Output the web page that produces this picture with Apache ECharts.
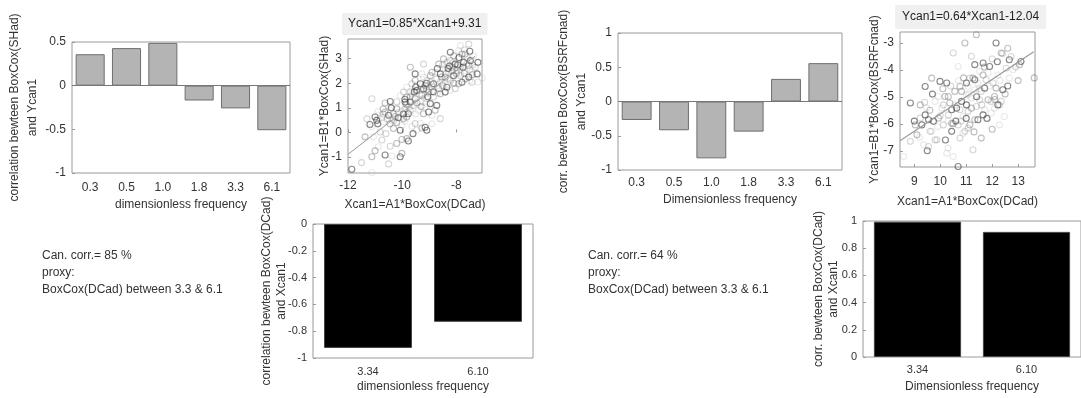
<!DOCTYPE html>
<html>
<head>
<meta charset="utf-8">
<script src="https://cdn.jsdelivr.net/npm/echarts@6.0.0/dist/echarts.min.js"></script>
<style>
  html, body { margin: 0; padding: 0; background: #fff; }
  #chart { width: 1081px; height: 398px; }
</style>
</head>
<body>
<div id="chart"></div>
<script>
// category labels
const freqLabels = ["0.3", "0.5", "1.0", "1.8", "3.3", "6.1"];
const proxyLabels = ["3.34", "6.10"];

// bar values
const shadCorr = [0.36, 0.43, 0.49, -0.17, -0.26, -0.51];
const bsrfCorr = [-0.27, -0.42, -0.83, -0.44, 0.33, 0.56];
const dcadCorrShad = [-0.925, -0.73];
const dcadCorrBsrf = [0.995, 0.92];

// tick values of the scatter axes
const scatter1XTicks = [-12, -10, -8];
const scatter1YTicks = [-1, 0, 1, 2, 3];
const scatter2XTicks = [9, 10, 11, 12, 13];
const scatter2YTicks = [-7, -6, -5, -4, -3];

// fitted lines: [slope, intercept], and x span of the drawn line
const fit1 = [0.85, 9.31];
const fit1Span = [-12, -7.3];
const fit2 = [0.64, -12.04];
const fit2Span = [8.45, 13.6];

// canonical variates
const scatter1Points = [
  [-11.86,-1.50],[-11.12,-1.63],[-11.50,-1.23],[-11.12,-0.99],[-10.63,-0.92],[-10.38,-0.96],
  [-10.50,-1.28],[-10.01,-0.85],[-10.07,-0.99],[-10.88,-0.58],[-10.44,-0.56],[-10.01,-0.29],
  [-9.77,-0.35],[-11.06,-0.18],[-10.75,-0.31],[-11.37,-0.18],[-11.19,0.32],[-11.12,0.23],
  [-10.81,0.02],[-10.32,0.16],[-10.07,0.09],[-10.01,0.29],[-11.12,1.37],[-10.63,1.20],
  [-10.44,1.26],[-9.64,0.25],[-9.52,0.36],[-9.27,0.18],[-9.09,0.09],[-9.33,0.36],
  [-8.59,0.56],[-9.70,2.65],[-9.52,2.38],[-9.27,2.38],[-9.21,2.78],[-8.65,2.78],
  [-8.22,3.26],[-7.85,3.53],[-7.54,3.59],[-7.67,3.19],[-7.23,2.38],[-7.05,2.21],
  [-7.42,2.04],[-7.91,1.98],
  [-11.00,0.63],[-10.88,0.70],[-10.75,0.60],[-10.63,0.83],[-10.50,0.70],[-10.44,0.90],
  [-10.32,0.76],[-10.20,0.96],[-10.14,0.60],[-10.01,0.83],[-9.89,0.96],[-9.83,0.63],
  [-10.94,0.49],[-10.69,0.43],[-10.32,0.49],[-9.95,0.56],[-9.77,0.76],
  [-10.07,1.50],[-9.95,1.64],[-9.83,1.44],[-9.70,1.24],[-9.64,1.57],[-9.58,1.10],
  [-9.52,1.37],[-9.46,1.71],[-9.40,0.90],[-9.33,1.24],[-9.27,1.50],[-9.21,1.77],
  [-9.15,1.03],[-9.09,1.37],[-9.02,1.64],[-8.96,1.17],[-8.90,1.84],[-8.84,1.44],
  [-8.78,0.90],[-8.72,1.10],[-9.83,1.84],[-9.64,1.98],[-9.52,2.11],[-9.89,1.24],
  [-10.01,1.10],[-9.70,0.90],[-9.21,0.76],[-9.02,0.83],[-8.90,0.70],
  [-9.09,2.11],[-8.96,2.31],[-8.84,1.98],[-8.78,2.45],[-8.72,2.18],[-8.65,1.78],
  [-8.59,2.38],[-8.53,2.04],[-8.47,2.58],[-8.41,2.25],[-8.35,1.84],[-8.28,2.45],
  [-8.22,2.11],[-8.16,2.65],[-8.10,2.31],[-8.04,1.98],[-7.98,2.51],[-8.59,1.57],
  [-8.41,1.64],[-8.22,1.71],[-8.04,1.78],[-9.15,1.91],[-9.33,1.98],[-9.21,2.25],
  [-8.22,2.92],[-8.10,3.12],[-8.04,2.78],[-7.91,2.99],[-7.85,2.65],[-7.79,3.19],
  [-7.73,2.85],[-7.67,2.51],[-7.60,3.05],[-7.54,2.72],[-7.48,2.92],[-7.42,2.45],
  [-7.85,2.31],[-7.67,2.18],[-7.54,2.25],[-7.91,3.32],[-8.35,2.85],[-8.47,2.99],
  [-7.79,2.04],[-7.36,3.12],[-7.30,2.65],
  [-9.83,-0.25],[-9.15,0.21],[-9.46,0.09],
  [-10.55,0.55],[-10.25,0.65],[-9.95,0.75],[-9.60,1.40],[-9.35,1.55],[-9.10,1.75],
  [-8.85,1.65],[-8.60,2.05],[-8.40,2.40],[-8.15,2.50],[-7.95,2.75],[-7.70,2.90],
  [-9.75,1.05],[-9.45,1.20],[-9.05,1.45],[-8.70,1.90],[-8.30,2.20],[-8.00,2.40],
  [-7.75,2.65],[-7.50,2.55],[-10.15,0.80],[-9.85,1.15],[-9.55,1.65],[-9.25,1.95],
  [-8.95,2.05],[-8.55,2.25],[-8.25,2.70],[-7.95,2.20],[-7.60,2.80],[-10.45,0.35],
  [-10.90,0.35],[-10.90,0.85],[-10.70,0.75],[-10.70,0.95],[-10.40,1.00],[-10.40,0.60],
  [-10.20,1.25],[-10.20,0.40],[-9.90,1.35],[-9.90,0.45],[-9.70,1.65],[-9.70,1.45],
  [-9.50,1.85],[-9.50,0.75],[-9.30,1.75],[-9.30,1.05],[-9.10,2.00],[-9.10,1.20],
  [-8.90,1.95],[-8.90,2.45],[-8.70,2.60],[-8.70,1.60],[-8.50,2.75],[-8.50,1.90],
  [-8.30,2.60],[-8.30,1.95],[-8.10,2.85],[-8.10,2.00],[-7.90,3.05],[-7.90,2.55],
  [-7.70,3.35],[-7.70,2.40],[-7.50,3.30],[-7.50,2.10],[-7.40,2.75],[-7.40,2.35],
  [-7.20,2.85],[-7.20,2.05],
  [-10.60,-0.05],[-10.20,-0.45],[-9.60,-0.05],[-8.90,0.35],[-11.30,0.55],[-11.00,-0.75]
];

const scatter2Points = [
  [8.85,-5.23],[8.59,-7.21],[8.85,-6.65],[9.10,-6.41],[9.29,-6.04],[9.36,-6.78],
  [9.55,-6.84],[9.23,-5.30],[9.42,-5.67],[9.48,-5.42],[9.61,-6.28],[9.67,-4.31],
  [9.74,-5.91],[9.80,-5.17],[9.87,-6.59],[9.93,-5.79],[9.99,-4.43],[10.06,-5.42],
  [10.12,-6.04],[10.18,-4.99],[10.25,-4.49],[10.25,-7.09],[10.31,-5.67],[10.37,-5.23],
  [10.44,-6.28],[10.50,-7.21],[10.50,-3.38],[10.56,-4.80],[10.63,-5.42],[10.69,-3.88],
  [10.69,-6.04],[10.76,-4.62],[10.82,-5.17],[10.88,-5.73],[10.95,-6.28],[10.95,-3.01],
  [11.01,-4.49],[11.01,-4.93],[11.07,-5.54],[11.14,-6.04],[10.69,-7.58],[11.20,-5.05],
  [11.26,-6.96],[11.26,-4.31],[11.33,-3.81],[11.33,-4.74],[11.39,-5.36],[11.39,-2.70],
  [11.45,-5.85],[11.52,-4.06],[11.58,-4.80],[11.58,-6.53],[11.65,-3.75],[11.71,-5.48],
  [11.77,-4.37],[11.84,-5.11],[11.90,-3.88],[11.96,-5.60],[12.03,-4.49],[12.09,-4.99],
  [12.15,-3.01],[12.22,-4.19],[12.28,-5.30],[12.35,-3.38],[12.41,-4.74],[12.47,-5.73],
  [12.54,-3.94],[12.60,-3.20],[12.66,-3.63],[12.66,-4.31],[12.73,-3.51],[13.05,-3.81],
  [13.11,-3.69],
  [9.93,-4.99],[10.12,-5.30],[10.31,-4.99],[10.44,-5.48],[10.56,-5.30],[10.76,-5.48],
  [10.82,-4.80],[11.01,-5.30],[11.07,-4.62],[11.14,-4.31],[11.20,-5.42],[11.33,-4.37],
  [11.45,-4.49],[11.52,-5.11],[11.65,-4.19],[11.71,-4.68],[11.84,-4.12],[11.96,-5.17],
  [12.15,-4.68],[12.22,-5.30],[12.28,-6.04],[10.76,-6.53],[10.44,-5.98],[9.55,-5.85],
  [9.67,-6.28],[9.23,-5.79],[9.04,-6.04],[9.42,-4.62],[10.88,-6.35],[11.07,-6.16],
  [11.33,-5.85],[11.65,-5.67],[12.09,-5.42],[12.35,-5.17],[13.62,-4.30],
  [9.00,-5.90],[9.20,-6.50],[9.40,-5.20],[9.60,-5.50],[9.70,-4.90],[9.90,-6.10],
  [10.00,-5.70],[10.10,-4.70],[10.20,-6.60],[10.30,-5.90],[10.40,-4.60],[10.50,-6.00],
  [10.60,-5.90],[10.70,-4.40],[10.80,-5.90],[10.90,-4.30],[11.00,-5.80],[11.10,-4.90],
  [11.20,-3.50],[11.30,-6.30],[11.40,-5.00],[11.50,-4.70],[11.60,-5.30],[11.70,-3.90],
  [11.80,-5.80],[11.90,-4.60],[12.00,-3.60],[12.10,-5.10],[12.20,-3.70],[12.30,-4.40],
  [12.40,-3.40],[12.50,-4.90],[12.60,-4.60],[12.80,-4.00],[12.90,-3.90],[13.00,-4.40],
  [9.50,-7.00],[10.30,-6.90],[9.80,-6.60],[12.00,-6.20]
];

const shades = [
  "rgba(55,55,55,0.75)",
  "rgba(95,95,95,0.5)",
  "rgba(125,125,125,0.38)",
  "rgba(155,155,155,0.28)"
];

const FONT = "Liberation Sans, Arial, sans-serif";
const TEXT = "#333";
const BOX = "#9a9a9a";

function pointData(points) {
  return points.map((p, i) => ({
    value: p,
    itemStyle: { borderColor: shades[(i * 7) % shades.length] }
  }));
}

function fitLine(fit, span) {
  return span.map((x) => [x, fit[0] * x + fit[1]]);
}

function catAxis(grid, data, name, margin, gap, fontSize) {
  return {
    type: "category", gridIndex: grid, data: data,
    name: name, nameLocation: "middle", nameGap: gap, nameMoveOverlap: false,
    nameTextStyle: { color: TEXT, fontFamily: FONT, fontSize: 12 },
    axisLine: { show: false },
    axisTick: { inside: true, alignWithLabel: true, length: 3, lineStyle: { color: BOX } },
    axisLabel: { color: TEXT, fontFamily: FONT, fontSize: fontSize, margin: margin }
  };
}

function valAxis(grid, opts) {
  return Object.assign({
    type: "value", gridIndex: grid, nameLocation: "middle", nameMoveOverlap: false,
    nameTextStyle: { color: TEXT, fontFamily: FONT, fontSize: 12, lineHeight: 18 },
    axisLine: { show: false },
    axisTick: { show: true, inside: true, length: 3, lineStyle: { color: BOX } },
    axisLabel: { color: TEXT, fontFamily: FONT, fontSize: 12, margin: 6 },
    splitLine: { show: false }
  }, opts);
}

function textBlock(left, lines) {
  return lines.map((t, i) => ({
    type: "text", left: left, top: 250 + i * 17,
    style: { text: t, fill: TEXT, font: "12px " + FONT }
  }));
}

const gridBox = { show: true, borderColor: BOX, borderWidth: 1, backgroundColor: "#fff" };

const chart = echarts.init(document.getElementById("chart"));
chart.setOption({
  animation: false,
  backgroundColor: "#fff",
  title: [
    {
      text: "Ycan1=0.85*Xcan1+9.31", left: 342, top: 13,
      padding: [5, 6, 5, 6], backgroundColor: "#f0f0f0",
      textStyle: { color: "#222", fontFamily: FONT, fontSize: 12, fontWeight: "normal" }
    },
    {
      text: "Ycan1=0.64*Xcan1-12.04", left: 895, top: 5,
      padding: [6, 7, 6, 7], backgroundColor: "#f0f0f0",
      textStyle: { color: "#222", fontFamily: FONT, fontSize: 12, fontWeight: "normal" }
    }
  ],
  grid: [
    Object.assign({ left: 72, top: 42, width: 218, height: 131 }, gridBox),
    Object.assign({ left: 348, top: 39, width: 134, height: 134 }, gridBox),
    Object.assign({ left: 618, top: 33, width: 224, height: 137 }, gridBox),
    Object.assign({ left: 900, top: 32, width: 135, height: 135 }, gridBox),
    Object.assign({ left: 313, top: 224, width: 220, height: 134 }, gridBox),
    Object.assign({ left: 863, top: 221, width: 219, height: 136 }, gridBox)
  ],
  xAxis: [
    catAxis(0, freqLabels, "dimensionless frequency", 9, 26, 12),
    valAxis(1, {
      min: -12, max: -7.05, position: "bottom",
      name: "Xcan1=A1*BoxCox(DCad)", nameGap: 23,
      axisTick: { show: true, inside: true, length: 3, lineStyle: { color: BOX }, customValues: scatter1XTicks },
      axisLabel: { color: TEXT, fontFamily: FONT, fontSize: 12, margin: 7, customValues: scatter1XTicks }
    }),
    catAxis(2, freqLabels, "Dimensionless frequency", 7, 24, 12),
    valAxis(3, {
      min: 8.45, max: 13.65, position: "bottom",
      name: "Xcan1=A1*BoxCox(DCad)", nameGap: 26,
      axisTick: { show: true, inside: true, length: 3, lineStyle: { color: BOX }, customValues: scatter2XTicks },
      axisLabel: { color: TEXT, fontFamily: FONT, fontSize: 12, margin: 9, customValues: scatter2XTicks }
    }),
    catAxis(4, proxyLabels, "dimensionless frequency", 8, 23, 11),
    catAxis(5, proxyLabels, "Dimensionless frequency", 7, 24, 11)
  ],
  yAxis: [
    valAxis(0, {
      min: -1, max: 0.5, interval: 0.5,
      name: "correlation bewteen BoxCox(SHad)\nand Ycan1", nameGap: 30
    }),
    valAxis(1, {
      min: -1.65, max: 3.8,
      name: "Ycan1=B1*BoxCox(SHad)", nameGap: 14,
      axisTick: { show: true, inside: true, length: 3, lineStyle: { color: BOX }, customValues: scatter1YTicks },
      axisLabel: { color: TEXT, fontFamily: FONT, fontSize: 12, margin: 6, customValues: scatter1YTicks }
    }),
    valAxis(2, {
      min: -1, max: 1, interval: 0.5,
      name: "corr. bewteen BoxCox(BSRFcnad)\nand Ycan1", nameGap: 27
    }),
    valAxis(3, {
      min: -7.6, max: -2.6,
      name: "Ycan1=B1*BoxCox(BSRFcnad)", nameGap: 16,
      axisTick: { show: true, inside: true, length: 3, lineStyle: { color: BOX }, customValues: scatter2YTicks },
      axisLabel: { color: TEXT, fontFamily: FONT, fontSize: 12, margin: 6, customValues: scatter2YTicks }
    }),
    valAxis(4, {
      min: -1, max: 0, interval: 0.2,
      name: "correlation bewteen BoxCox(DCad)\nand Xcan1", nameGap: 24,
      nameTextStyle: { color: TEXT, fontFamily: FONT, fontSize: 12, lineHeight: 15 },
      axisLabel: { color: TEXT, fontFamily: FONT, fontSize: 11, margin: 6 }
    }),
    valAxis(5, {
      min: 0, max: 1, interval: 0.2,
      name: "corr. bewteen BoxCox(DCad)\nand Xcan1", nameGap: 22,
      nameTextStyle: { color: TEXT, fontFamily: FONT, fontSize: 12, lineHeight: 15 },
      axisLabel: { color: TEXT, fontFamily: FONT, fontSize: 11, margin: 6 }
    })
  ],
  series: [
    {
      type: "bar", xAxisIndex: 0, yAxisIndex: 0, data: shadCorr, barCategoryGap: "20%",
      itemStyle: { color: "#b4b4b4", borderColor: "#6e6e6e", borderWidth: 1 },
      markLine: { silent: true, symbol: "none", label: { show: false },
        lineStyle: { color: "#777", type: "solid", width: 1 }, data: [{ yAxis: 0 }] }
    },
    {
      type: "scatter", xAxisIndex: 1, yAxisIndex: 1, data: pointData(scatter1Points),
      symbol: "circle", symbolSize: 6,
      itemStyle: { color: "rgba(0,0,0,0)", borderWidth: 1.1 }
    },
    {
      type: "line", xAxisIndex: 1, yAxisIndex: 1, data: fitLine(fit1, fit1Span),
      showSymbol: false, lineStyle: { color: "#9a9a9a", width: 1 }
    },
    {
      type: "bar", xAxisIndex: 2, yAxisIndex: 2, data: bsrfCorr, barCategoryGap: "20%",
      itemStyle: { color: "#b4b4b4", borderColor: "#6e6e6e", borderWidth: 1 },
      markLine: { silent: true, symbol: "none", label: { show: false },
        lineStyle: { color: "#777", type: "solid", width: 1 }, data: [{ yAxis: 0 }] }
    },
    {
      type: "scatter", xAxisIndex: 3, yAxisIndex: 3, data: pointData(scatter2Points),
      symbol: "circle", symbolSize: 6,
      itemStyle: { color: "rgba(0,0,0,0)", borderWidth: 1.1 }
    },
    {
      type: "line", xAxisIndex: 3, yAxisIndex: 3, data: fitLine(fit2, fit2Span),
      showSymbol: false, lineStyle: { color: "#9a9a9a", width: 1.2 }
    },
    {
      type: "bar", xAxisIndex: 4, yAxisIndex: 4, data: dcadCorrShad, barCategoryGap: "20%",
      itemStyle: { color: "#000", borderColor: "#444", borderWidth: 1 }
    },
    {
      type: "bar", xAxisIndex: 5, yAxisIndex: 5, data: dcadCorrBsrf, barCategoryGap: "20%",
      itemStyle: { color: "#000", borderColor: "#444", borderWidth: 1 }
    }
  ],
  graphic: textBlock(42, ["Can. corr.= 85 %", "proxy:", "BoxCox(DCad) between 3.3 & 6.1"])
    .concat(textBlock(588, ["Can. corr.= 64 %", "proxy:", "BoxCox(DCad) between 3.3 & 6.1"]))
});
</script>
</body>
</html>
